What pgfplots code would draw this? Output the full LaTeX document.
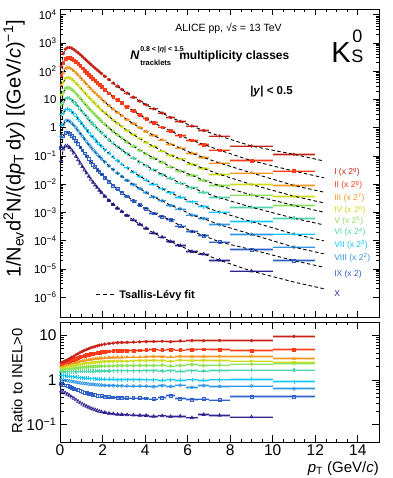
\documentclass[border=0pt]{standalone}
\usepackage{pgfplots}
\pgfplotsset{compat=1.18}
\usepackage{pgfplotstable}
\usepackage{fontspec}
\setmainfont{Liberation Sans}

\definecolor{cI}{RGB}{200,35,25}
\definecolor{cII}{RGB}{255,60,25}
\definecolor{cIII}{RGB}{245,150,35}
\definecolor{cIV}{RGB}{205,220,30}
\definecolor{cV}{RGB}{140,225,90}
\definecolor{cVI}{RGB}{80,210,175}
\definecolor{cVII}{RGB}{20,200,250}
\definecolor{cVIII}{RGB}{45,150,230}
\definecolor{cIX}{RGB}{45,95,200}
\definecolor{cX}{RGB}{45,35,145}

% pt: bin centre, ex: half width, f: INEL>0 spectrum, R1..R10: ratio of class to INEL>0
\pgfplotstableread{
pt    ex    f         R1    R2    R3    R4    R5    R6    R7    R8    R9    R10
0.05  0.05  0.1203    2.450 2.350 2.100 1.900 1.700 1.500 1.250 1.000 0.800 0.560
0.15  0.05  0.3241    2.532 2.399 2.129 1.920 1.711 1.503 1.242 0.990 0.782 0.539
0.25  0.05  0.4429    2.674 2.484 2.177 1.954 1.729 1.508 1.228 0.974 0.754 0.505
0.35  0.05  0.4759    2.824 2.572 2.227 1.989 1.747 1.513 1.214 0.958 0.726 0.474
0.45  0.05  0.4506    3.015 2.681 2.288 2.031 1.770 1.518 1.198 0.940 0.694 0.439
0.55  0.05  0.3968    3.219 2.795 2.351 2.074 1.792 1.524 1.182 0.921 0.664 0.406
0.65  0.05  0.3349    3.400 2.893 2.405 2.111 1.811 1.529 1.169 0.906 0.640 0.381
0.75  0.05  0.2761    3.630 3.016 2.471 2.156 1.834 1.535 1.154 0.889 0.612 0.353
0.85  0.05  0.2248    3.875 3.144 2.539 2.202 1.858 1.541 1.138 0.871 0.585 0.327
0.95  0.05  0.1820    4.138 3.278 2.609 2.249 1.881 1.547 1.123 0.854 0.560 0.302
1.05  0.05  0.1473    4.370 3.393 2.668 2.289 1.901 1.552 1.111 0.840 0.539 0.283
1.15  0.05  0.1193    4.615 3.513 2.729 2.330 1.922 1.557 1.098 0.827 0.519 0.266
1.25  0.05  0.09702   4.821 3.612 2.779 2.362 1.938 1.561 1.089 0.816 0.504 0.253
1.35  0.05  0.07925   5.036 3.713 2.830 2.396 1.954 1.565 1.079 0.805 0.489 0.240
1.45  0.05  0.06503   5.261 3.818 2.882 2.430 1.971 1.569 1.069 0.795 0.475 0.228
1.55  0.05  0.05367   5.437 3.898 2.921 2.456 1.984 1.572 1.062 0.787 0.465 0.219
1.65  0.05  0.04453   5.618 3.980 2.961 2.482 1.996 1.575 1.055 0.779 0.454 0.211
1.75  0.05  0.03714   5.805 4.063 3.001 2.508 2.009 1.578 1.048 0.771 0.444 0.203
1.85  0.05  0.03116   5.998 4.149 3.042 2.535 2.022 1.581 1.041 0.764 0.435 0.195
1.95  0.05  0.02625   6.131 4.207 3.070 2.552 2.030 1.583 1.036 0.759 0.428 0.190
2.1   0.1   0.02052   6.335 4.295 3.112 2.579 2.043 1.586 1.029 0.751 0.419 0.183
2.3   0.1   0.014995  6.546 4.385 3.154 2.607 2.056 1.589 1.023 0.744 0.409 0.176
2.5   0.1   0.011151  6.690 4.446 3.183 2.625 2.065 1.591 1.018 0.739 0.403 0.172
2.7   0.1   0.008433  6.838 4.508 3.212 2.644 2.074 1.593 1.014 0.734 0.397 0.167
2.9   0.1   0.006469  6.913 4.540 3.226 2.653 2.078 1.594 1.011 0.732 0.394 0.165
3.15  0.15  0.004725  6.989 4.571 3.241 2.662 2.082 1.595 1.009 0.730 0.392 0.163
3.45  0.15  0.003323  7.066 4.603 3.256 2.672 2.087 1.596 1.007 0.727 0.389 0.161
3.75  0.15  0.002390  7.143 4.635 3.270 2.681 2.091 1.597 1.005 0.725 0.386 0.159
4.05  0.15  0.001756  7.222 4.668 3.285 2.691 2.096 1.599 1.002 0.722 0.383 0.157
4.4   0.2   0.001253  7.30  4.75  3.35  2.75  2.10  1.62  1.00  0.70  0.37  0.150
4.8   0.2   8.755e-4  7.40  4.70  3.30  2.70  2.15  1.58  0.98  0.74  0.40  0.155
5.2   0.2   6.268e-4  7.20  4.80  3.25  2.65  2.05  1.60  1.00  0.71  0.44  0.148
5.65  0.25  4.411e-4  7.50  4.70  3.40  2.80  2.10  1.55  0.97  0.76  0.38  0.152
6.2   0.3   2.967e-4  7.60  4.75  3.30  2.70  2.20  1.60  1.00  0.68  0.36  0.140
6.75  0.25  2.055e-4  7.60  4.90  3.35  2.75  2.10  1.58  0.98  0.74  0.37  0.165
7.5   0.5   1.297e-4  7.70  4.85  3.40  2.70  2.15  1.60  1.00  0.71  0.35  0.158
9     1     5.797e-5  7.60  4.60  3.40  2.65  2.25  1.66  1.03  0.73  0.42  0.146
11    1     2.358e-5  9.50  4.85  3.00  2.50  2.35  1.66  0.91  0.63  0.42  0.146
12.4  0     1.371e-5  9.50  4.85  3.00  2.50  2.35  1.66  0.91  0.63  0.42  0.146
}\data

% spectrum: column, colour, marker, scale, last pT
\newcommand\kspec[5]{%
  \addplot[draw=none, no markers, forget plot, restrict x to domain=1.9:#5,
    error bars/.cd, x dir=both, x explicit, error mark=none,
    error bar style={draw=#2!35, line width=2.6pt}]
    table[x=pt, y expr=\thisrow{f}*\thisrow{#1}*#4, x error=ex]{\data};
  \addplot[#2, only marks, #3, forget plot, restrict x to domain=1.9:#5,
    error bars/.cd, x dir=both, x explicit, error mark=none,
    error bar style={draw=#2, line width=0.8pt}]
    table[x=pt, y expr=\thisrow{f}*\thisrow{#1}*#4, x error=ex]{\data};
  \addplot[#2, only marks, #3, forget plot, restrict x to domain=0:1.9]
    table[x=pt, y expr=\thisrow{f}*\thisrow{#1}*#4]{\data};
}
% ratio panel: column, colour, marker, last pT
\newcommand\krat[4]{%
  \addplot[draw=none, no markers, forget plot, restrict x to domain=1.9:#4,
    error bars/.cd, x dir=both, x explicit, error mark=none,
    error bar style={draw=#2!35, line width=2.6pt}]
    table[x=pt, y=#1, x error=ex]{\data};
  \addplot[#2, only marks, #3, forget plot, restrict x to domain=1.9:#4,
    error bars/.cd, x dir=both, x explicit, error mark=none,
    error bar style={draw=#2, line width=0.8pt}]
    table[x=pt, y=#1, x error=ex]{\data};
  \addplot[#2, only marks, #3, forget plot, restrict x to domain=0:1.9]
    table[x=pt, y=#1]{\data};
}
\newcommand\kfit[2]{%
  \addplot[black, no marks, forget plot, line width=0.9pt, dash pattern=on 3.5pt off 2.5pt]
    table[x=pt, y expr=\thisrow{f}*\thisrow{#1}*#2]{\data};
}

\pgfplotsset{
  kpanel/.style={scale only axis, width=319pt, xmin=0, xmax=15,
    axis line style={line width=0.8pt}, tick style={black, line width=0.6pt},
    tick align=inside, major tick length=6pt, minor tick length=3pt,
    xtick={0,2,...,14}, minor x tick num=3},
  mI/.style={mark=*, mark size=1.5pt},
  mII/.style={mark=square*, mark size=1.4pt},
  mIII/.style={mark=triangle*, mark size=1.8pt},
  mIV/.style={mark=triangle*, mark size=1.8pt, mark options={rotate=180}},
  mV/.style={mark=diamond*, mark size=1.8pt},
  mVI/.style={mark=+, mark size=2pt, mark options={line width=1.1pt}},
  mVII/.style={mark=+, mark size=2pt, mark options={line width=0.8pt}},
  mVIII/.style={mark=o, mark size=1.5pt, mark options={line width=0.7pt}},
  mIX/.style={mark=square, mark size=1.4pt, mark options={line width=0.7pt}},
  mX/.style={mark=triangle, mark size=1.8pt, mark options={line width=0.7pt}},
}

\begin{document}
\begin{tikzpicture}[x=1pt, y=1pt]
\path (0,0) rectangle (390,478);

\begin{axis}[kpanel, ymode=log, at={(58pt,161pt)}, anchor=south west, height=308pt,
  ymin=2e-7, ymax=1.6e4, ytickten={-6,...,4},
  yticklabels={10\textsuperscript{−6},10\textsuperscript{−5},10\textsuperscript{−4},10\textsuperscript{−3},10\textsuperscript{−2},10\textsuperscript{−1},1,10,10\textsuperscript{2},10\textsuperscript{3},10\textsuperscript{4}},
  yticklabel style={font=\fontsize{11.5}{12}\selectfont},
  xticklabels={}]
\kspec{R1}{cI}{mI}{512}{11.5}
\kspec{R2}{cII}{mII}{256}{11.5}
\kspec{R3}{cIII}{mIII}{128}{11.5}
\kspec{R4}{cIV}{mIV}{64}{11.5}
\kspec{R5}{cV}{mV}{32}{11.5}
\kspec{R6}{cVI}{mVI}{16}{11.5}
\kspec{R7}{cVII}{mVII}{8}{11.5}
\kspec{R8}{cVIII}{mVIII}{4}{11.5}
\kspec{R9}{cIX}{mIX}{2}{11.5}
\kspec{R10}{cX}{mX}{1}{9.5}
\kfit{R1}{512}
\kfit{R2}{256}
\kfit{R3}{128}
\kfit{R4}{64}
\kfit{R5}{32}
\kfit{R6}{16}
\kfit{R7}{8}
\kfit{R8}{4}
\kfit{R9}{2}
\kfit{R10}{1}
\end{axis}

\begin{axis}[kpanel, ymode=log, at={(58pt,36pt)}, anchor=south west, height=120pt,
  ymin=0.04, ymax=20, ytickten={-1,0,1},
  yticklabels={10\textsuperscript{−1},1,10},
  xticklabels={0,2,4,6,8,10,12,14},
  major tick length=7pt, minor tick length=3.5pt,
  ticklabel style={font=\fontsize{15.5}{16}\selectfont},
  xticklabel style={yshift=1pt}]
\krat{R10}{cX}{mX}{9.5}
\krat{R9}{cIX}{mIX}{11.5}
\krat{R8}{cVIII}{mVIII}{11.5}
\krat{R7}{cVII}{mVII}{11.5}
\krat{R6}{cVI}{mVI}{11.5}
\krat{R5}{cV}{mV}{11.5}
\krat{R4}{cIV}{mIV}{11.5}
\krat{R3}{cIII}{mIII}{11.5}
\krat{R2}{cII}{mII}{11.5}
\krat{R1}{cI}{mI}{11.5}
\end{axis}

% axis titles
\node[rotate=90, font=\fontsize{20}{22}\selectfont] at (12,329)
  {1/N\textsubscript{ev}d\textsuperscript{2}N/(d\textit{p}\textsubscript{T}\,d\textit{y}) [(GeV/\textit{c})\textsuperscript{−1}]};
\node[rotate=90, font=\fontsize{14.8}{16}\selectfont] at (15,97) {Ratio to INEL>0};
\node[anchor=base east, inner sep=0, font=\fontsize{15}{16}\selectfont] at (377,5.5)
  {\textit{p}\textsubscript{T} (GeV/\textit{c})};

% texts in the spectra panel
\node[anchor=base west, inner sep=0, font=\fontsize{10.5}{12}\selectfont] at (173,446)
  {ALICE pp, √\textit{s} = 13 TeV};
\node[anchor=base west, inner sep=0, font=\fontsize{12.5}{14}\selectfont\bfseries\itshape] at (128,418) {N};
\node[anchor=base west, inner sep=0, font=\fontsize{7}{8}\selectfont\bfseries] at (138,426) {0.8 < |\textit{η}| < 1.5};
\node[anchor=base west, inner sep=0, font=\fontsize{7.5}{8}\selectfont\bfseries] at (138,412) {tracklets};
\node[anchor=base west, inner sep=0, font=\fontsize{12}{14}\selectfont\bfseries] at (177,418) {multiplicity classes};
\node[anchor=base west, inner sep=0, font=\fontsize{11.5}{13}\selectfont\bfseries] at (248,383) {|\textit{y}| < 0.5};
\node[anchor=base west, inner sep=0, font=\fontsize{29}{30}\selectfont] at (329,415) {K};
\node[anchor=base west, inner sep=0, font=\fontsize{18}{19}\selectfont] at (350,435) {0};
\node[anchor=base west, inner sep=0, font=\fontsize{18}{19}\selectfont] at (349,415) {S};

% legend
\draw[dash pattern=on 4pt off 3pt, line width=1pt] (94,183) -- (113,183);
\node[anchor=base west, inner sep=0, font=\fontsize{11}{12}\selectfont\bfseries] at (117,179) {Tsallis-Lévy fit};

% class labels
\begin{scope}[every node/.style={anchor=base west, inner sep=0, font=\fontsize{8.5}{9}\selectfont}]
\node[text=cI]    at (332,303)   {I (x 2\textsuperscript{9})};
\node[text=cII]   at (332,290)   {II (x 2\textsuperscript{8})};
\node[text=cIII]  at (332,277.5) {III (x 2\textsuperscript{7})};
\node[text=cIV]   at (332,265)   {IV (x 2\textsuperscript{6})};
\node[text=cV]    at (332,254.5) {V (x 2\textsuperscript{5})};
\node[text=cVI]   at (332,243)   {VI (x 2\textsuperscript{4})};
\node[text=cVII]  at (332,230.5) {VII (x 2\textsuperscript{3})};
\node[text=cVIII] at (332,217.5) {VIII (x 2\textsuperscript{2})};
\node[text=cIX]   at (332,201)   {IX (x 2)};
\node[text=cX]    at (332,181.5) {X};
\end{scope}
\end{tikzpicture}
\end{document}
